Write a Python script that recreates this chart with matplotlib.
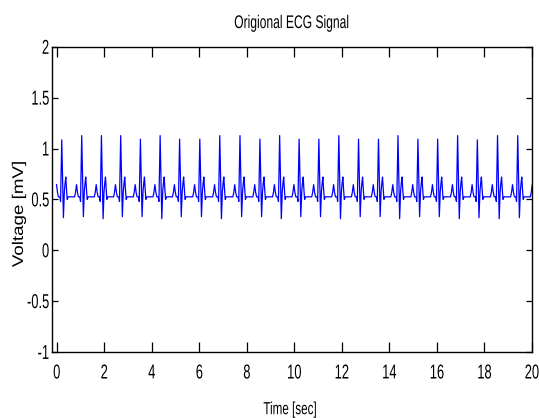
import numpy as np
import matplotlib.pyplot as plt
from matplotlib.patheffects import AbstractPathEffect
from matplotlib.path import Path
from matplotlib.transforms import Affine2D

# R-peak times (sec), R amplitudes and S troughs (mV) for each beat
r_times = [0.21, 1.05, 1.88, 2.69, 3.52, 4.35, 5.17, 6.02, 6.86, 7.71, 8.55, 9.38,
           10.20, 11.03, 11.87, 12.70, 13.54, 14.36, 15.20, 16.03, 16.87, 17.70, 18.55, 19.40,
           20.23]
r_peaks = [1.085, 1.127, 1.127, 1.127, 1.092, 1.127, 1.092, 1.092, 1.127, 1.127, 1.092, 1.127,
           1.092, 1.092, 1.127, 1.092, 1.092, 1.127, 1.092, 1.092, 1.127, 1.085, 1.127, 1.127,
           1.10]
s_troughs = [0.32, 0.33, 0.31, 0.33, 0.33, 0.31, 0.33, 0.33, 0.31, 0.33, 0.33, 0.31,
             0.33, 0.33, 0.31, 0.33, 0.33, 0.31, 0.33, 0.33, 0.31, 0.32, 0.31, 0.32,
             0.32]

# one beat: offsets from the R peak (sec) and voltages (mV); R and S filled per beat
beat_offsets = [-0.30, -0.26, -0.22, -0.18, -0.14, -0.08, -0.05, 0.00, 0.07, 0.11, 0.14, 0.17, 0.20, 0.23, 0.27]
beat_values = [0.525, 0.57, 0.645, 0.57, 0.525, 0.525, 0.48, None, None, 0.58, 0.66, 0.72, 0.60, 0.50, 0.525]
R_IDX, S_IDX = 7, 8

x_ticks = [0, 2, 4, 6, 8, 10, 12, 14, 16, 18, 20]
y_ticks = [-1, -0.5, 0, 0.5, 1, 1.5, 2]
y_ticklabels = ['-1', '-0.5', '0', '0.5', '1', '1.5', '2']


class Stretch(AbstractPathEffect):
    """Rescale glyph outlines in the text's own frame (tall, narrow lettering).

    ax / ay pick the fixed point as a fraction of the ink box; ay=None keeps
    the baseline fixed.
    """

    def __init__(self, sx=1.0, sy=1.0, ax=0.5, ay=None):
        super().__init__()
        self.sx, self.sy = sx, sy
        self.ax, self.ay = ax, ay

    def draw_path(self, renderer, gc, tpath, affine, rgbFace=None):
        verts = tpath.vertices
        if tpath.codes is not None:
            verts = verts[tpath.codes != Path.CLOSEPOLY]
        x0 = y0 = 0.0
        if len(verts):
            x0 = verts[:, 0].min() + self.ax * np.ptp(verts[:, 0])
            if self.ay is not None:
                y0 = verts[:, 1].min() + self.ay * np.ptp(verts[:, 1])
        m = Affine2D().translate(-x0, -y0).scale(self.sx, self.sy).translate(x0, y0)
        renderer.draw_path(gc, tpath, m + affine, rgbFace)


t, v = [], []
for rt, rp, sv in zip(r_times, r_peaks, s_troughs):
    vals = list(beat_values)
    vals[R_IDX] = rp
    vals[S_IDX] = sv
    t.extend(rt + o for o in beat_offsets)
    v.extend(vals)
t = np.array(t)
v = np.array(v)
keep = t >= -0.02
t, v = t[keep], v[keep]

font = ['Liberation Sans', 'DejaVu Sans']

fig = plt.figure(figsize=(5.39, 4.18), dpi=100)
ax = fig.add_axes([0.0965, 0.158, 0.8905, 0.730])
ax.plot(t, v, color='#0000ff', linewidth=0.9)

ax.set_xlim(-0.2, 20)
ax.set_ylim(-1, 2)
ax.set_xticks(x_ticks)
ax.set_yticks(y_ticks)
ax.set_yticklabels(y_ticklabels)

for sp in ax.spines.values():
    sp.set_linewidth(1.0)
ax.tick_params(direction='in', top=True, right=True, width=0.9)
ax.tick_params(axis='x', length=7, pad=9)
ax.tick_params(axis='y', length=4, pad=2)
for lbl in ax.get_xticklabels():
    lbl.set_family(font)
    lbl.set_fontsize(9.3)
    lbl.set_path_effects([Stretch(1.0, 1.56, 0.5, 1.0)])
for lbl in ax.get_yticklabels():
    lbl.set_family(font)
    lbl.set_fontsize(9.3)
    lbl.set_path_effects([Stretch(1.0, 1.56, 1.0, 0.5)])

title = ax.set_title('Origional ECG Signal', family=font, fontsize=8.7, pad=13.5)
title.set_path_effects([Stretch(1.0, 1.52)])
xl = ax.set_xlabel('Time [sec]', family=font, fontsize=8.4)
xl.set_path_effects([Stretch(1.0, 1.5, 0.5, 1.0)])
ax.xaxis.set_label_coords(0.496, -0.1605)
yl = ax.set_ylabel('Voltage [mV]', family=font, fontsize=13.5)
yl.set_path_effects([Stretch(1.0, 0.82)])
ax.yaxis.set_label_coords(-0.0523, 0.452)

fig.savefig('out.png', dpi=100)
